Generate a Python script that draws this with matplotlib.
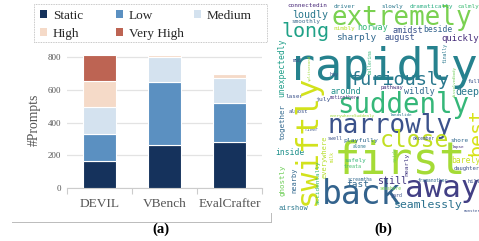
import matplotlib
matplotlib.use("Agg")
import matplotlib.pyplot as plt
from matplotlib.patches import Rectangle, Patch
from matplotlib.lines import Line2D
import numpy as np

# ---------------- data ----------------
benchmarks = ["DEVIL", "VBench", "EvalCrafter"]
levels = ["Static", "Low", "Medium", "High", "Very High"]
static_vals = [167, 265, 281]
low_vals = [161, 385, 236]
medium_vals = [167, 150, 153]
high_vals = [159, 14, 28]
very_high_vals = [156, 0, 0]
y_ticks = [0, 200, 400, 600, 800]

# word cloud words and their weights (font em in px)
wc_words_h = ["rapidly", "extremely", "long", "suddenly", "narrowly", "furiously",
              "first", "back", "away", "close", "seamlessly", "still", "fast",
              "loudly", "smoothly", "connectedin", "driver", "slowly", "dramatically",
              "calmly", "norway", "nimbly", "amidst", "beside", "sharply", "august",
              "quickly", "mud", "hay", "around", "wildly", "deep", "pathway", "laser",
              "july", "motionthere", "almost", "everywhereSuddenly", "landslide",
              "river", "playfully", "inside", "alone", "safely", "treata", "screamtha",
              "airshow", "december", "shore", "lapse", "barely", "daughter",
              "framanother", "hill", "seashore", "yard", "monster", "full", "swell"]
wc_size_h = [45, 26, 20, 27.5, 26, 18.5, 44, 33, 31, 23, 11.5, 10, 9.5,
             10, 6, 6, 6, 6, 6, 6, 8.5, 6, 8.5, 8, 9.5, 8.5,
             9, 5, 5, 8.5, 8.5, 10, 5.5, 6, 6.5, 4.5, 5.5, 4.3, 4.3,
             4.5, 6.5, 8, 4.6, 6, 5, 4.6, 7, 4.6, 6, 4.3, 8, 5.5,
             4.6, 5.5, 4.6, 5, 4, 5.5, 5]
wc_words_v = ["swiftly", "best", "unexpectedly", "together", "ghostly", "nearby",
              "everywhere", "accidentally", "nearly", "aside", "finally",
              "dissolvedbody", "ballerina", "splitsecond", "milk"]
wc_size_v = [31, 20, 8, 7.5, 7.5, 7, 7, 6, 6.5, 5, 4.7, 4, 4.6, 4, 4.5]

# ---------------- layout / style ----------------
W, H = 479, 241
seg_colors = ["#15325c", "#5b90c1", "#d4e2ef", "#f5dac8", "#bd6453"]

# word positions in pixels (x centre, baseline y) / (x centre, y centre) for vertical words
pos_h = [(383, 80), (402, 25), (305, 37), (403, 113), (390, 133), (399, 85),
         (400, 174), (362, 204), (442, 197), (414, 147), (428, 208), (392, 184), (358, 187),
         (310, 18), (306, 23), (307, 7), (345, 8), (392, 8), (431, 8),
         (468, 8), (373, 30), (344, 30), (408, 33), (438, 32), (356, 40), (400, 40),
         (460, 41), (297, 62), (334, 76), (346, 94), (419, 94), (467, 95), (392, 89), (295, 98),
         (323, 101), (345, 99), (298, 113), (352, 117), (401, 116),
         (311, 131), (361, 142), (290, 155), (360, 148), (355, 162), (353, 168), (360, 181),
         (293, 210), (424, 140), (459, 142), (458, 148), (466, 163), (467, 170),
         (433, 182), (474, 183), (391, 190), (397, 197), (472, 212), (474, 83), (335, 140)]
col_h = ["#26828e", "#7ad151", "#1fa187", "#35b779", "#3b528b", "#2a788e",
         "#a5db36", "#33638d", "#423f85", "#c2df23", "#2c728e", "#443a83", "#31688e",
         "#2a788e", "#3e6d8e", "#482878", "#2a788e", "#2a788e", "#27ad81",
         "#3dbc74", "#35b779", "#b8de29", "#3b528b", "#33638d", "#31688e", "#3b528b",
         "#472d7b", "#3b528b", "#3b528b", "#21918c", "#31688e", "#2a788e", "#46337e", "#3b528b",
         "#3b528b", "#46337e", "#3b528b", "#a0da39", "#2a788e",
         "#3b528b", "#31688e", "#21918c", "#2a788e", "#35b779", "#44bf70", "#31688e",
         "#2a788e", "#3b528b", "#31688e", "#46337e", "#c8e020", "#3b528b",
         "#31688e", "#3b528b", "#7ad151", "#3b528b", "#3b528b", "#3b528b", "#3b528b"]
pos_v = [(307, 140), (477, 132), (282, 68), (282, 122), (282, 180), (294, 180),
         (325, 157), (318, 182), (407, 164), (395, 155), (445, 53),
         (455, 82), (370, 62), (310, 68), (332, 157)]
col_v = ["#d2e21b", "#d8e219", "#1f9e89", "#31688e", "#6ece58", "#31688e",
         "#b5de2b", "#35b779", "#443a83", "#7ad151", "#2a788e",
         "#6ece58", "#35b779", "#a0da39", "#bddf26"]

plt.rcParams["font.family"] = ["Liberation Serif", "DejaVu Serif"]
fig = plt.figure(figsize=(W / 100, H / 100), dpi=100)
fig.patch.set_facecolor("white")


def fx(px):
    return px / W


def fy(py):
    return 1 - py / H


# ---------------- bar chart ----------------
ymax = 830
y0_px, y800_px = 188, 57
ppu = (y0_px - y800_px) / 800.0
ax_h = ymax * ppu
ax = fig.add_axes([fx(67), fy(y0_px), (262 - 67) / W, ax_h / H])
x = np.arange(len(benchmarks))
series = [static_vals, low_vals, medium_vals, high_vals, very_high_vals]
bottom = np.zeros(len(benchmarks))
handles = []
for vals, c, lab in zip(series, seg_colors, levels):
    vals = np.array(vals, dtype=float)
    ax.bar(x, vals, bottom=bottom, width=0.51, color=c, edgecolor="white",
           linewidth=0.8, zorder=3, label=lab)
    bottom += vals
    handles.append(Patch(facecolor=c, edgecolor="none", label=lab))

ax.set_xlim(-0.5, 2.5)
ax.set_ylim(0, ymax)
ax.set_yticks(y_ticks)
ax.set_yticklabels([str(v) for v in y_ticks], fontsize=6.5, color="#555555")
ax.tick_params(axis="y", length=0, pad=4)
ax.yaxis.grid(True, color="#e3e3e3", linewidth=0.9, zorder=0)
ax.set_xticks(x)
ax.set_xticklabels(benchmarks, fontsize=9.6, color="#555555")
ax.set_xticks([-0.5, 0.5, 1.5, 2.5], minor=True)
ax.tick_params(axis="x", which="major", length=0, pad=7)
ax.tick_params(axis="x", which="minor", length=4, color="#cccccc", width=0.8)
for s in ["top", "right", "left"]:
    ax.spines[s].set_visible(False)
ax.spines["bottom"].set_color("#cccccc")
ax.spines["bottom"].set_linewidth(0.8)
ax.set_ylabel("#Prompts", fontsize=9.8, color="#555555", labelpad=5)
ax.set_facecolor("white")

# legend box (dotted) and three legend columns
fig.add_artist(Rectangle((fx(34), fy(42)), (267 - 34) / W, (42 - 4) / H,
                         transform=fig.transFigure, fill=False,
                         edgecolor="#b5b5b5", linestyle=(0, (1, 1)), linewidth=0.6))
cols = [[0, 3], [1, 4], [2]]
col_x = [37, 113, 191]
for cidx, xs in zip(cols, col_x):
    leg = fig.legend(handles=[handles[i] for i in cidx], loc="upper left",
                     bbox_to_anchor=(fx(xs), fy(7.5)), frameon=False,
                     fontsize=9.5, handlelength=0.55, handleheight=0.55,
                     handletextpad=0.45, labelspacing=0.42, borderpad=0.2,
                     borderaxespad=0)
    for t in leg.get_texts():
        t.set_color("#262626")

# decorative frame lines under panel (a)
fig.add_artist(Line2D([fx(12), fx(271)], [fy(222), fy(222)], transform=fig.transFigure,
                      color="#bbbbbb", linewidth=0.7))
fig.add_artist(Line2D([fx(271), fx(271)], [fy(213), fy(222)], transform=fig.transFigure,
                      color="#bbbbbb", linewidth=0.7))

fig.text(fx(161), fy(229), "(a)", ha="center", va="center", fontsize=10.5,
         fontweight="bold", color="black")
fig.text(fx(383), fy(229), "(b)", ha="center", va="center", fontsize=10.5,
         fontweight="bold", color="black")

# ---------------- word cloud ----------------
wx0, wx1, wy0, wy1 = 268, 479, 2, 213
axw = fig.add_axes([fx(wx0), fy(wy1), (wx1 - wx0) / W, (wy1 - wy0) / H])
axw.set_xlim(wx0, wx1)
axw.set_ylim(wy1, wy0)
axw.axis("off")
for w, s, (px, py), c in zip(wc_words_h, wc_size_h, pos_h, col_h):
    axw.text(px, py, w, fontsize=s * 0.72, family="DejaVu Sans Mono", color=c,
             ha="center", va="baseline", clip_on=True)
for w, s, (px, py), c in zip(wc_words_v, wc_size_v, pos_v, col_v):
    axw.text(px, py, w, fontsize=s * 0.72, family="DejaVu Sans Mono", color=c,
             ha="center", va="center", rotation=90, clip_on=True)

fig.savefig("out.png", dpi=100, facecolor="white")
